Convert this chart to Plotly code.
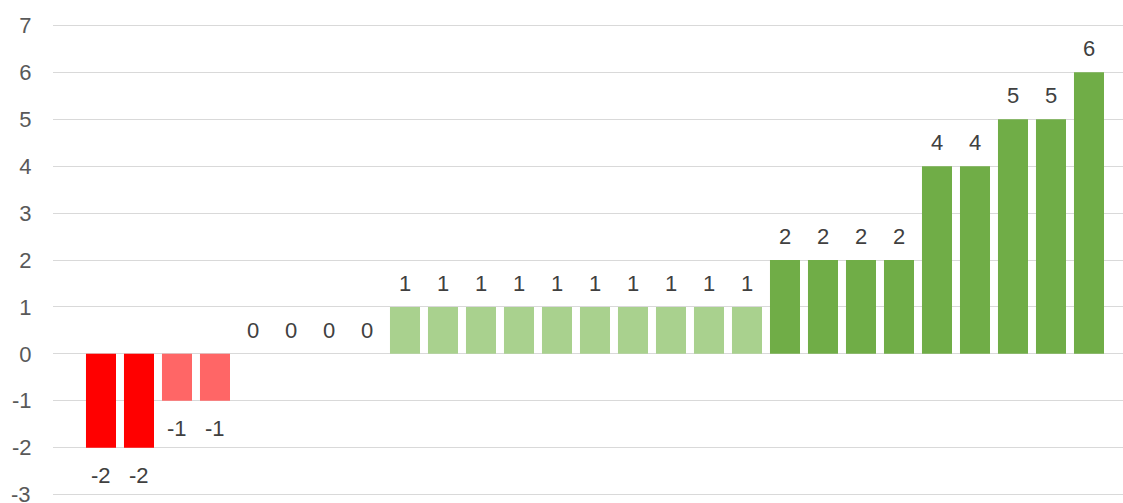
import plotly.graph_objs as go

values = [-2, -2, -1, -1, 0, 0, 0, 0, 1, 1, 1, 1, 1, 1, 1, 1, 1, 1,
          2, 2, 2, 2, 4, 4, 5, 5, 6]
categories = list(range(len(values)))
y_ticks = [-3, -2, -1, 0, 1, 2, 3, 4, 5, 6, 7]


def bar_color(v):
    if v <= -2:
        return '#FF0000'
    if v < 0:
        return '#FF6666'
    if v <= 1:
        return '#A9D18E'
    return '#70AD47'


fig = go.Figure(go.Bar(
    x=categories,
    y=values,
    marker=dict(color=[bar_color(v) for v in values], line=dict(width=0)),
    showlegend=False,
    hoverinfo='y'
))

# data labels sit a bit off the bar ends, Excel style
for x, v in zip(categories, values):
    fig.add_annotation(
        x=x, y=v, text=str(v), showarrow=False,
        yanchor='bottom' if v >= 0 else 'top',
        yshift=9 if v >= 0 else -13,
        font=dict(size=22, color='#404040')
    )

# plotly drops the bottom tick label since it runs off the page; draw it by hand
fig.add_annotation(
    xref='paper', x=0, y=y_ticks[0], text=str(y_ticks[0]), showarrow=False,
    xanchor='right', xshift=-20, font=dict(size=22, color='#595959')
)

# range padded a little so the -3 and 7 gridlines are drawn
fig.update_layout(
    width=1123, height=503,
    font=dict(family='Liberation Sans, Arial, sans-serif', size=22, color='#595959'),
    plot_bgcolor='white',
    paper_bgcolor='white',
    bargap=0.21,
    margin=dict(l=53, r=0, t=22.65, b=5.65),
    xaxis=dict(range=[-1.263, 26.895], showticklabels=False, showgrid=False,
               zeroline=False, showline=False, ticks=''),
    yaxis=dict(range=[-3.05, 7.05], tickvals=y_ticks, ticktext=[str(t) for t in y_ticks],
               showgrid=True, gridcolor='#D9D9D9',
               gridwidth=1, zeroline=False, showline=False,
               ticks='outside', ticklen=16, tickcolor='rgba(0,0,0,0)',
               tickfont=dict(size=22, color='#595959'))
)

# drop the default page margin so the figure fills the window exactly
fig.write_html("out.html", config=dict(displayModeBar=False),
               post_script="document.body.style.margin='0';document.body.style.overflow='hidden';")
